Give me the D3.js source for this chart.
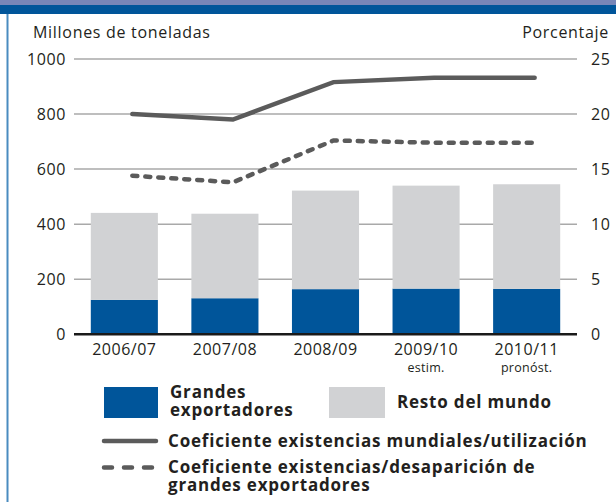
<!DOCTYPE html>
<html>
<head>
<meta charset="utf-8">
<script src="https://cdn.jsdelivr.net/npm/d3@7"></script>
<style>
  body { margin: 0; background: #fff; }
  svg { display: block; font-family: "Open Sans", "Noto Sans", sans-serif; }
</style>
</head>
<body>
<svg id="chart"></svg>
<script>
// datos
var campanas = ["2006/07", "2007/08", "2008/09", "2009/10", "2010/11"];
var notas = ["", "", "", "estim.", "pronóst."];
var grandesExportadores = [125, 131, 164, 166, 165];
var restoDelMundo = [316, 307, 358, 374, 380];
var coefMundial = [20.0, 19.5, 22.9, 23.3, 23.3];
var coefExportadores = [14.4, 13.8, 17.6, 17.4, 17.4];
var ticksIzq = [0, 200, 400, 600, 800, 1000];
var ticksDer = [0, 5, 10, 15, 20, 25];

var WIDTH = 616,
    HEIGHT = 502;
var AZUL = "#00559a",
    GRIS = "#d1d2d4",
    LINEA = "#5b5b5b",
    REJILLA = "#a9a9a9",
    TEXTO = "#231f20";

var svg = d3.select("#chart")
    .attr("width", WIDTH)
    .attr("height", HEIGHT);

// marco
svg.append("rect").attr("x", 0).attr("y", 0).attr("width", WIDTH).attr("height", 6).attr("fill", "#7886b8");
svg.append("rect").attr("x", 0).attr("y", 5).attr("width", WIDTH).attr("height", 9).attr("fill", AZUL);
svg.append("line").attr("x1", 7.5).attr("x2", 7.5).attr("y1", 14).attr("y2", HEIGHT)
    .attr("stroke", "#4a8cc0").attr("stroke-width", 2);

var x = d3.scaleBand()
    .domain(campanas)
    .range([74, 577])
    .paddingInner(0.333)
    .paddingOuter(0.167);

var y = d3.scaleLinear().domain([0, 1000]).range([334.3, 59]);
var y2 = d3.scaleLinear().domain([0, 25]).range([334.3, 59]);

// rejilla
svg.append("g")
  .selectAll("line")
  .data(ticksIzq.slice(1))
  .enter().append("line")
    .attr("x1", 74).attr("x2", 577)
    .attr("y1", function(d) { return y(d); })
    .attr("y2", function(d) { return y(d); })
    .attr("stroke", REJILLA)
    .attr("stroke-width", 1.5);

// ejes
var ejeIzq = svg.append("g")
    .attr("transform", "translate(74,0)")
    .call(d3.axisLeft(y).tickValues(ticksIzq).tickFormat(d3.format("d")).tickSize(0).tickPadding(8));
var ejeDer = svg.append("g")
    .attr("transform", "translate(577,0)")
    .call(d3.axisRight(y2).tickValues(ticksDer).tickSize(0).tickPadding(14));
[ejeIzq, ejeDer].forEach(function(g) {
  g.select(".domain").remove();
  g.selectAll("text").attr("font-size", 16).attr("fill", TEXTO)
    .attr("letter-spacing", 0.6)
    .attr("font-family", "Open Sans, sans-serif");
});

// barras apiladas
var filas = campanas.map(function(c, i) {
  return { campana: c, grandes: grandesExportadores[i], resto: restoDelMundo[i] };
});
var series = d3.stack().keys(["grandes", "resto"])(filas);
var colores = { grandes: AZUL, resto: GRIS };

svg.append("g")
  .selectAll("g")
  .data(series)
  .enter().append("g")
    .attr("fill", function(s) { return colores[s.key]; })
  .selectAll("rect")
  .data(function(s) { return s; })
  .enter().append("rect")
    .attr("x", function(d) { return x(d.data.campana); })
    .attr("y", function(d) { return y(d[1]); })
    .attr("width", x.bandwidth())
    .attr("height", function(d) { return y(d[0]) - y(d[1]); });

// linea base
svg.append("line")
    .attr("x1", 74).attr("x2", 577)
    .attr("y1", y(0)).attr("y2", y(0))
    .attr("stroke", "#1a1a1a").attr("stroke-width", 2.5);

// etiquetas eje x
var etq = svg.append("g")
  .selectAll("g")
  .data(campanas)
  .enter().append("g")
    .attr("transform", function(d) { return "translate(" + (x(d) + x.bandwidth() / 2) + ",0)"; });
etq.append("text")
    .attr("y", 355)
    .attr("text-anchor", "middle")
    .attr("font-size", 16)
    .attr("letter-spacing", 0.5)
    .attr("fill", TEXTO)
    .text(function(d) { return d; });
etq.append("text")
    .attr("y", 372)
    .attr("text-anchor", "middle")
    .attr("font-size", 12.5)
    .attr("letter-spacing", 0.3)
    .attr("fill", TEXTO)
    .text(function(d, i) { return notas[i]; });

// lineas de coeficientes
var desplaz = 8;
var linea = d3.line()
    .x(function(d, i) { return x(campanas[i]) + x.bandwidth() / 2 + desplaz; })
    .y(function(d) { return y2(d); });

svg.append("path")
    .datum(coefMundial)
    .attr("d", linea)
    .attr("fill", "none")
    .attr("stroke", LINEA)
    .attr("stroke-width", 4.5)
    .attr("stroke-linecap", "round");

svg.append("path")
    .datum(coefExportadores)
    .attr("d", linea)
    .attr("fill", "none")
    .attr("stroke", LINEA)
    .attr("stroke-width", 4.5)
    .attr("stroke-linecap", "round")
    .attr("stroke-dasharray", "5,8");

// titulos de ejes
svg.append("text").attr("x", 33).attr("y", 38)
    .attr("font-size", 16).attr("letter-spacing", 0.7).attr("fill", TEXTO).text("Millones de toneladas");
svg.append("text").attr("x", 609).attr("y", 38).attr("text-anchor", "end")
    .attr("font-size", 16).attr("letter-spacing", 0.7).attr("fill", TEXTO).text("Porcentaje");

// leyenda
var ley = svg.append("g")
    .attr("font-weight", 700)
    .attr("font-size", 17)
    .attr("letter-spacing", 0.8)
    .attr("fill", TEXTO);
ley.append("rect").attr("x", 104).attr("y", 387).attr("width", 54).attr("height", 31).attr("fill", AZUL);
ley.append("text").attr("x", 170).attr("y", 398).text("Grandes");
ley.append("text").attr("x", 170).attr("y", 416).text("exportadores");
ley.append("rect").attr("x", 329).attr("y", 387).attr("width", 56).attr("height", 31).attr("fill", GRIS);
ley.append("text").attr("x", 397).attr("y", 408).text("Resto del mundo");

ley.append("line").attr("x1", 104).attr("x2", 156).attr("y1", 441).attr("y2", 441)
    .attr("stroke", LINEA).attr("stroke-width", 4.5).attr("stroke-linecap", "round");
ley.append("text").attr("x", 168).attr("y", 447).text("Coeficiente existencias mundiales/utilización");

ley.append("line").attr("x1", 104).attr("x2", 156).attr("y1", 467.5).attr("y2", 467.5)
    .attr("stroke", LINEA).attr("stroke-width", 4.5).attr("stroke-linecap", "round")
    .attr("stroke-dasharray", "8,12");
ley.append("text").attr("x", 168).attr("y", 473).text("Coeficiente existencias/desaparición de");
ley.append("text").attr("x", 168).attr("y", 491).text("grandes exportadores");
</script>
</body>
</html>
